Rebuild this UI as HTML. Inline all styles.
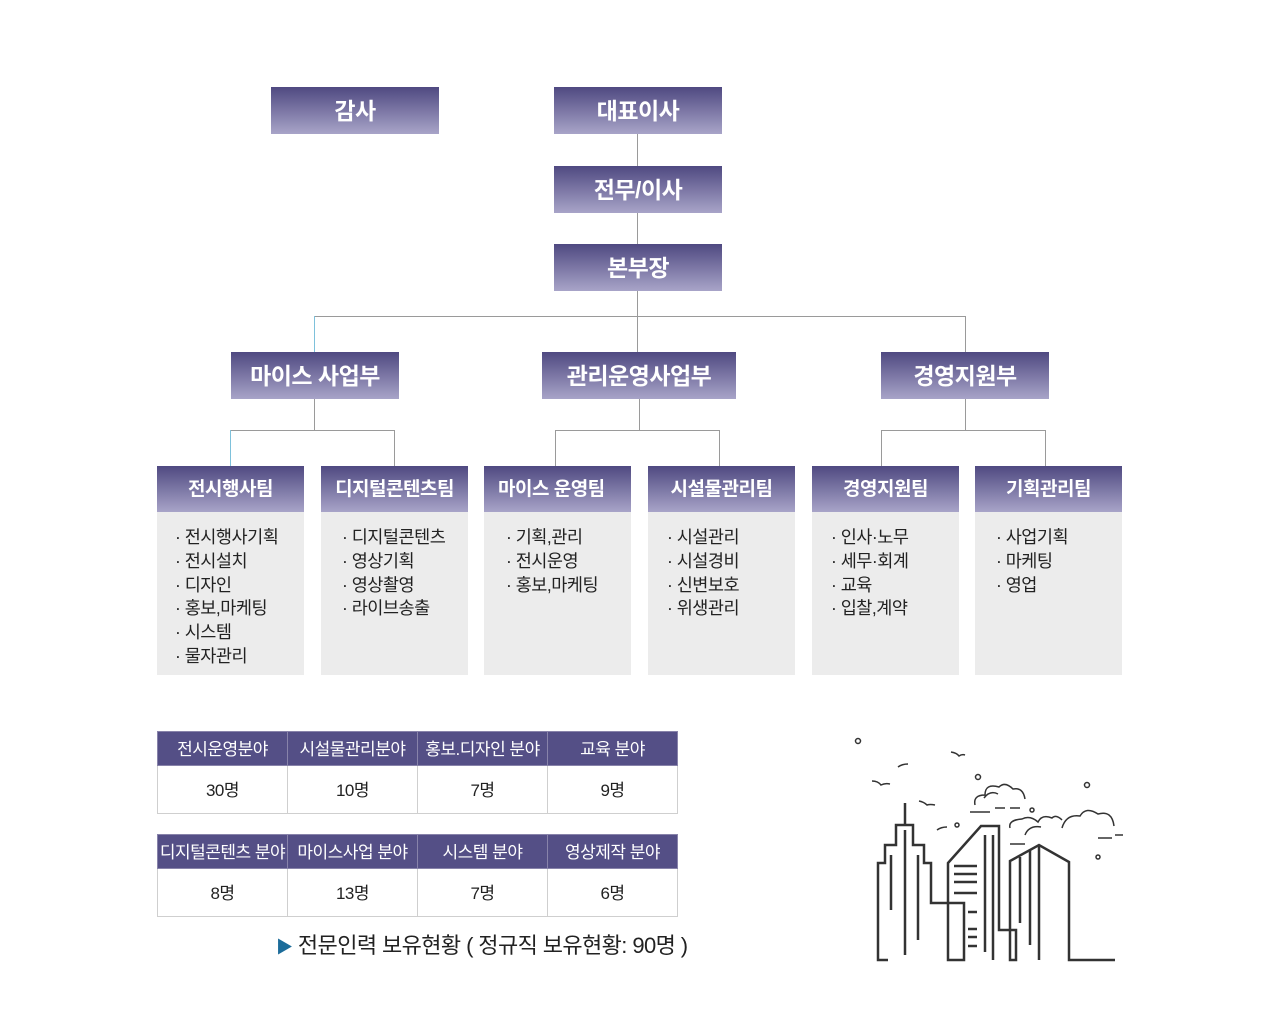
<!DOCTYPE html>
<html><head><meta charset="utf-8"><style>
*{margin:0;padding:0;box-sizing:border-box}
body{width:1280px;height:1024px;background:#fff;position:relative;overflow:hidden;font-family:"Liberation Sans","Noto Sans CJK KR",sans-serif}
.b{position:absolute;background:linear-gradient(#4f4981,#a8a4c8);color:#fff;font-weight:bold;text-align:center;display:flex;align-items:center;justify-content:center;letter-spacing:-0.5px;padding-bottom:4px}
.big{height:47px;width:168px;font-size:23px}
.dept{height:47px;font-size:23px}
.team{height:46px;width:147px;font-size:19px}
.body{position:absolute;top:512px;height:163px;width:147px;background:#ececec;color:#222;font-size:17.5px;line-height:23.8px;padding-top:14px;letter-spacing:-0.5px}
.l{position:absolute;background:#9a9a9a}
.c{position:absolute;background:#7ec1db}
table{position:absolute;left:157px;width:521px;border-collapse:collapse;table-layout:fixed}
td{border:1px solid #cfcfcf;text-align:center;font-size:17px;color:#222;letter-spacing:-0.5px}
tr.h td{background:#544f86;color:#fff;height:34px;border-color:#8883aa;padding-bottom:2px}
tr.d td{height:48px;padding-bottom:3px}
</style></head><body>
<div class="b big" style="left:271px;top:87px">감사</div>
<div class="b big" style="left:554px;top:87px">대표이사</div>
<div class="b big" style="left:554px;top:166px">전무/이사</div>
<div class="b big" style="left:554px;top:244px">본부장</div>
<div class="l" style="left:637px;top:134px;width:1px;height:32px"></div>
<div class="l" style="left:637px;top:213px;width:1px;height:31px"></div>
<div class="l" style="left:637px;top:291px;width:1px;height:61px"></div>
<div class="l" style="left:314px;top:316px;width:652px;height:1px"></div>
<div class="c" style="left:314px;top:316px;width:1px;height:36px"></div>
<div class="l" style="left:965px;top:316px;width:1px;height:36px"></div>
<div class="b dept" style="left:231px;top:352px;width:168px">마이스 사업부</div>
<div class="b dept" style="left:542px;top:352px;width:194px">관리운영사업부</div>
<div class="b dept" style="left:881px;top:352px;width:168px">경영지원부</div>
<div class="l" style="left:314px;top:399px;width:1px;height:31px"></div>
<div class="l" style="left:639px;top:399px;width:1px;height:31px"></div>
<div class="l" style="left:965px;top:399px;width:1px;height:31px"></div>
<div class="l" style="left:230px;top:430px;width:165px;height:1px"></div>
<div class="c" style="left:230px;top:430px;width:1px;height:36px"></div>
<div class="l" style="left:394px;top:430px;width:1px;height:36px"></div>
<div class="l" style="left:555px;top:430px;width:165px;height:1px"></div>
<div class="l" style="left:555px;top:430px;width:1px;height:36px"></div>
<div class="l" style="left:719px;top:430px;width:1px;height:36px"></div>
<div class="l" style="left:881px;top:430px;width:165px;height:1px"></div>
<div class="l" style="left:881px;top:430px;width:1px;height:36px"></div>
<div class="l" style="left:1045px;top:430px;width:1px;height:36px"></div>

<div class="b team" style="left:157px;top:466px">전시행사팀</div>
<div class="b team" style="left:321px;top:466px">디지털콘텐츠팀</div>
<div class="b team" style="left:484px;top:466px;justify-content:flex-start;padding-left:14px">마이스 운영팀</div>
<div class="b team" style="left:648px;top:466px">시설물관리팀</div>
<div class="b team" style="left:812px;top:466px">경영지원팀</div>
<div class="b team" style="left:975px;top:466px">기획관리팀</div>

<div class="body" style="left:157px;padding-left:18px">· 전시행사기획<br>· 전시설치<br>· 디자인<br>· 홍보,마케팅<br>· 시스템<br>· 물자관리</div>
<div class="body" style="left:321px;padding-left:21px">· 디지털콘텐츠<br>· 영상기획<br>· 영상촬영<br>· 라이브송출</div>
<div class="body" style="left:484px;padding-left:22px">· 기획,관리<br>· 전시운영<br>· 홍보,마케팅</div>
<div class="body" style="left:648px;padding-left:19px">· 시설관리<br>· 시설경비<br>· 신변보호<br>· 위생관리</div>
<div class="body" style="left:812px;padding-left:19px">· 인사·노무<br>· 세무·회계<br>· 교육<br>· 입찰,계약</div>
<div class="body" style="left:975px;padding-left:21px">· 사업기획<br>· 마케팅<br>· 영업</div>

<table style="top:731px"><tr class="h"><td>전시운영분야</td><td>시설물관리분야</td><td>홍보.디자인 분야</td><td>교육 분야</td></tr>
<tr class="d"><td>30명</td><td>10명</td><td>7명</td><td>9명</td></tr></table>
<table style="top:834px"><tr class="h"><td>디지털콘텐츠 분야</td><td>마이스사업 분야</td><td>시스템 분야</td><td>영상제작 분야</td></tr>
<tr class="d"><td>8명</td><td>13명</td><td>7명</td><td>6명</td></tr></table>
<div style="position:absolute;left:276px;top:928px;font-size:22px;color:#222;letter-spacing:-0.6px;white-space:nowrap"><span style="color:#1c6c9a;font-size:17px">▶</span> 전문인력 보유현황 ( 정규직 보유현황: 90명 )</div>

<svg style="position:absolute;left:0;top:0" width="1280" height="1024" fill="none" stroke="#333" stroke-width="2.5">
<path d="M888,960H878V863H885V845H896V825H913V845H924V863H931V903H964V960H948V863L981,826H999V930H1016V960H1010V861L1039,845L1069,862V960H1115"/>
<path d="M905,803V825M905,830V955M891,855V910M918,855V940M985,835V952M993,835V960M1020,857V923M1030,850V945M1039,845V960"/>
<path d="M954,866H977M954,874H977M954,882H977M954,893H977M968,912H977M968,929H977M968,937H977M968,946H977"/>
<g stroke-width="1.5">
<circle cx="858" cy="741" r="2.5"/><circle cx="978" cy="777" r="2.5"/><circle cx="1087" cy="785" r="2.5"/><circle cx="1032" cy="810" r="2"/><circle cx="957" cy="825" r="2"/><circle cx="1098" cy="857" r="2"/>
<path d="M951,752q6,1 8,4q3,-2 6,-1M898,767q4,-3 10,-3M872,781q6,0 9,4q4,-2 9,-1M919,801q5,1 8,4q3,-1 8,0M937,830q4,-3 10,-3"/>
<path d="M975,805q-2,-10 10,-10q0,-12 14,-8q6,-6 14,2q10,-2 12,10M984,798q6,-8 14,-4M970,812H990M995,808H1005M1010,808H1020"/>
<path d="M1010,828q-2,-8 12,-9q8,-4 16,3q4,-8 14,-4q4,-4 10,2M1025,835q4,-10 16,-8M1062,828q4,-14 18,-12q6,-10 18,-2q14,-4 16,12M1098,838H1112M1115,835H1123M1010,844H1025"/>
</g>
</svg>
</body></html>
